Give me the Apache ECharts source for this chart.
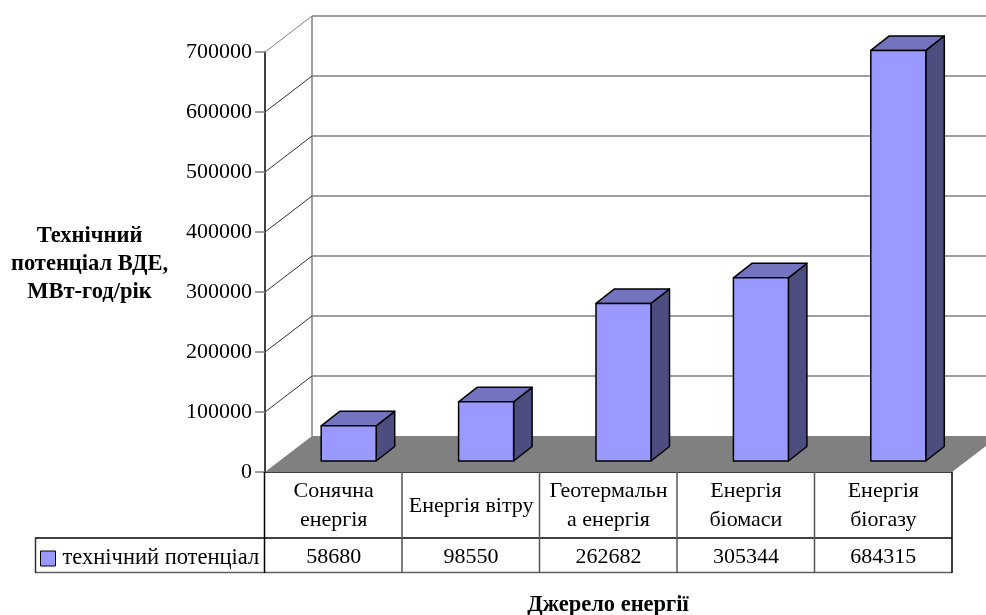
<!DOCTYPE html>
<html>
<head>
<meta charset="utf-8">
<script src="https://cdn.jsdelivr.net/npm/echarts@6/dist/echarts.min.js"></script>
<style>
  html, body { margin: 0; padding: 0; background: #fff; }
  #chart { width: 986px; height: 615px; }
</style>
</head>
<body>
<div id="chart"></div>
<script>
const categories = ['Сонячна\nенергія', 'Енергія вітру', 'Геотермальн\nа енергія', 'Енергія\nбіомаси', 'Енергія\nбіогазу'];
const potential = [58680, 98550, 262682, 305344, 684315];
const wallTicks = [0, 100000, 200000, 300000, 400000, 500000, 600000, 700000];
const seriesName = 'технічний потенціал';

const FONT = '"Liberation Serif", "Times New Roman", serif';
const COLORS = {
  front: '#9999ff',
  top: '#7373bf',
  side: '#4d4d80',
  floor: '#808080',
  wall: '#808080',
};

// pseudo 3D offsets, in pixels
const WALL_DX = 47, WALL_DY = -36;
const BAR_DX = 15, BAR_DY = -11, BAR_W = 55, DEPTH_DX = 18.5, DEPTH_DY = -14.5;

const chart = echarts.init(document.getElementById('chart'), null, { renderer: 'canvas' });

// back wall + floor, one item per tick
function renderWall(params, api) {
  const v = api.value(0);
  const cs = params.coordSys;
  const y = api.coord([0, v])[1];
  const x0 = cs.x, x1 = cs.x + cs.width;
  const line = (pts, color, w) => ({
    type: 'polyline', shape: { points: pts },
    style: { fill: null, stroke: color, lineWidth: w },
  });
  const children = [];
  if (v === 0) {
    children.push({
      type: 'polygon',
      shape: { points: [[x0, y], [x0 + WALL_DX, y + WALL_DY], [x1 + WALL_DX, y + WALL_DY], [x1, y]] },
      style: { fill: COLORS.floor, stroke: null },
    });
    children.push(line([[x0 + WALL_DX, y + WALL_DY], [x0 + WALL_DX, cs.y + WALL_DY]], COLORS.wall, 1.5));
  } else {
    children.push(line([[x0 + WALL_DX, y + WALL_DY], [x1 + WALL_DX, y + WALL_DY]], COLORS.wall, 1.5));
    children.push(line([[x0, y], [x0 + WALL_DX, y + WALL_DY]], v === 700000 ? COLORS.wall : '#333', 1));
  }
  return { type: 'group', children };
}

function renderBar(params, api) {
  const c = api.coord([api.value(0), api.value(1)]);
  const b = api.coord([api.value(0), 0]);
  const l = c[0] + BAR_DX - BAR_W / 2, r = l + BAR_W;
  const t = c[1] + BAR_DY, bt = b[1] + BAR_DY;
  const edge = { stroke: '#000', lineWidth: 1.5, lineJoin: 'round' };
  return {
    type: 'group',
    children: [
      { type: 'polygon', shape: { points: [[r, t], [r + DEPTH_DX, t + DEPTH_DY], [r + DEPTH_DX, bt + DEPTH_DY], [r, bt]] },
        style: { fill: COLORS.side, ...edge } },
      { type: 'polygon', shape: { points: [[l, t], [l + DEPTH_DX, t + DEPTH_DY], [r + DEPTH_DX, t + DEPTH_DY], [r, t]] },
        style: { fill: COLORS.top, ...edge } },
      { type: 'rect', shape: { x: l, y: t, width: BAR_W, height: bt - t },
        style: { fill: COLORS.front, ...edge } },
    ],
  };
}

// data table under the plot
function tableLine(x1, y1, x2, y2, color) {
  return { type: 'line', shape: { x1, y1, x2, y2 }, style: { stroke: color, lineWidth: 1.5 }, z: 20 };
}
const tableX = [402, 539.5, 677, 814.5];

function boldText(text, x, y) {
  return { type: 'text', x, y, style: { text, font: 'bold 22.5px ' + FONT, fill: '#000', textAlign: 'center', textVerticalAlign: 'middle' } };
}

chart.setOption({
  backgroundColor: '#fff',
  animation: false,
  grid: { left: 265, right: 34, top: 52, bottom: 143 },
  legend: {
    left: 35, top: 546, padding: [1, 0, 0, 5],
    itemWidth: 15, itemHeight: 15, itemGap: 0,
    textStyle: { fontFamily: FONT, fontSize: 22.5, color: '#000', padding: [0, 0, 0, 2] },
    data: [{ name: seriesName, icon: 'rect', itemStyle: { color: COLORS.front, borderColor: '#000', borderWidth: 1 } }],
  },
  xAxis: [
    {
      type: 'category', data: categories, position: 'bottom',
      axisLine: { lineStyle: { color: '#000', width: 1.5 } },
      axisTick: { show: false },
      axisLabel: { interval: 0, margin: 34, verticalAlign: 'middle', lineHeight: 29, fontFamily: FONT, fontSize: 22, color: '#000' },
    },
    {
      type: 'category', data: potential.map(String), position: 'bottom', offset: 51,
      axisLine: { show: false },
      axisTick: { show: false },
      axisLabel: { interval: 0, margin: 34, verticalAlign: 'middle', fontFamily: FONT, fontSize: 22, color: '#000' },
    },
  ],
  yAxis: {
    type: 'value', min: 0, max: 700000, interval: 100000,
    axisLine: { show: true, lineStyle: { color: '#000', width: 1.5 } },
    axisTick: { show: true, length: 10, lineStyle: { color: '#808080', width: 1.5 } },
    axisLabel: { margin: 13, fontFamily: FONT, fontSize: 22, color: '#000', padding: [3, 0, 0, 0], formatter: v => String(v) },
    splitLine: { show: false },
  },
  series: [
    {
      name: 'wall', type: 'custom', renderItem: renderWall, clip: false, z: 1, silent: true,
      data: wallTicks.map(v => [v]),
      encode: { y: 0 },
    },
    {
      name: seriesName, type: 'custom', renderItem: renderBar, clip: false, z: 3,
      itemStyle: { color: COLORS.front },
      data: potential.map((v, i) => [i, v]),
      encode: { x: 0, y: 1 },
    },
  ],
  graphic: [
    tableLine(35, 538, 952, 538, '#000'),
    tableLine(35, 572.5, 952, 572.5, '#606060'),
    tableLine(35.5, 538, 35.5, 573, '#303030'),
    tableLine(264.5, 472, 264.5, 573, '#000'),
    tableLine(952, 472, 952, 573, '#000'),
    ...tableX.map(x => tableLine(x, 472, x, 573, '#555')),
    boldText('Технічний', 89.5, 236),
    boldText('потенціал ВДЕ,', 89.5, 264),
    boldText('МВт-год/рік', 89.5, 292),
    boldText('Джерело енергії', 608, 605),
  ],
});
</script>
</body>
</html>
